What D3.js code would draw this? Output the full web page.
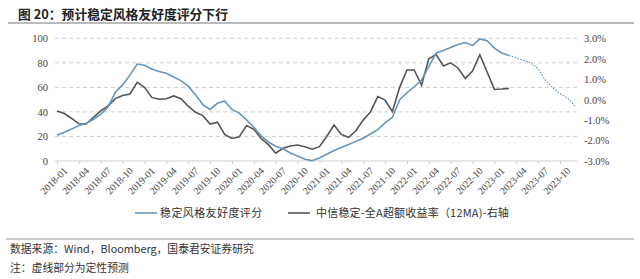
<!DOCTYPE html>
<html><head><meta charset="utf-8">
<script src="https://cdn.jsdelivr.net/npm/d3@7"></script>
<style>
html,body{margin:0;padding:0;background:#fff;}
svg{display:block;}
</style></head>
<body>
<svg id="chart" width="640" height="279"></svg>
<script>
// ---- data ----
const months = [];
for (let y = 2018; y <= 2023; y++) for (let m = 1; m <= 12; m++) months.push(y + "-" + String(m).padStart(2, "0"));

// 稳定风格友好度评分 (left axis), 2018-01 .. 2023-03
const scoreValues = [21,23.5,26,29,30.5,34,38,44,56,62,70,79,78,75,73,71.5,68.5,65.5,61,54,46,42,47,49,42,39,33.5,27.5,20.5,15.5,12,10,6.5,4,1.5,0.3,2.5,5.5,8.5,11,13.5,16,18.5,22,25.5,31,35.5,50,55.5,60.5,66,77,88,90,92.5,95,96.5,94,99.5,98,92,88,86];
// forecast (dotted), 2023-03 .. 2023-12
const forecastValues = [86,84,82,80,75,66,59.5,55,51.5,45];
// 中信稳定-全A超额收益率（12MA)-右轴 (%), 2018-01 .. 2023-03
const excessValues = [-0.55,-0.68,-0.92,-1.18,-1.19,-0.87,-0.55,-0.3,0.05,0.2,0.28,0.85,0.6,0.11,0.02,0.04,0.18,0.05,-0.32,-0.62,-0.78,-1.19,-1.1,-1.7,-1.9,-1.82,-1.27,-1.45,-1.9,-2.2,-2.62,-2.38,-2.27,-2.22,-2.3,-2.42,-2.3,-1.8,-1.24,-1.7,-1.84,-1.52,-1.0,-0.6,0.15,-0.02,-0.58,0.6,1.45,1.45,0.7,2.0,2.2,1.65,1.8,1.55,1.04,1.4,2.2,1.35,0.5,0.52,0.55];

const leftTicks = [0,20,40,60,80,100];
const rightTicks = [3,2,1,0,-1,-2,-3];
const tickMonths = months.filter((d,i)=> i % 3 === 0);

const titleText = "图 20：预计稳定风格友好度评分下行";
const legendNames = ["稳定风格友好度评分", "中信稳定-全A超额收益率（12MA)-右轴"];
const sourceText = "数据来源：Wind，Bloomberg，国泰君安证券研究";
const noteText = "注：虚线部分为定性预测";

// ---- drawing ----
const svg = d3.select("#chart");
const blue = "#6398bd", dark = "#555555";
const L = 55, R = 577, T = 38.3, B = 161;

const x = d3.scalePoint().domain(months).range([57, 574.6]);
const yL = d3.scaleLinear().domain([0,100]).range([B, T]);
const yR = d3.scaleLinear().domain([-3,3]).range([B, T]);

const cjk = "'Noto Sans CJK SC', 'Noto Sans', sans-serif";
const serif = "'Liberation Serif', 'DejaVu Serif', serif";

// title
svg.append("text").attr("x", 18).attr("y", 19).attr("font-family", cjk).attr("font-weight", "bold")
  .attr("font-size", 12.8).attr("fill", "#222").text(titleText);
svg.append("line").attr("x1", 8).attr("x2", 634).attr("y1", 23).attr("y2", 23).attr("stroke", "#777").attr("stroke-width", 1);

// gridlines
svg.append("g").selectAll("line").data(leftTicks.filter(d=>d>0)).join("line")
  .attr("x1", L).attr("x2", R).attr("y1", d=>yL(d)).attr("y2", d=>yL(d))
  .attr("stroke", "#d0d0d0").attr("stroke-dasharray", "4,3").attr("stroke-width", 1);

// left axis
const gl = svg.append("g").attr("transform", `translate(${L},0)`)
  .call(d3.axisLeft(yL).tickValues(leftTicks).tickSize(0).tickPadding(7));
gl.select(".domain").remove();
gl.selectAll("text").attr("font-family", serif).attr("font-size", 10.5).attr("fill", "#444");

// right axis
const gr = svg.append("g").attr("transform", `translate(${R},0)`)
  .call(d3.axisRight(yR).tickValues(rightTicks).tickSize(0).tickPadding(7).tickFormat(d=>d.toFixed(1)+"%"));
gr.select(".domain").remove();
gr.selectAll("text").attr("font-family", serif).attr("font-size", 10.5).attr("fill", "#444");

// bottom axis
const gx = svg.append("g").attr("transform", `translate(0,${B})`)
  .call(d3.axisBottom(x).tickValues(tickMonths).tickSize(3).tickSizeOuter(0));
gx.select(".domain").attr("d", `M${L},0H${R}`).attr("stroke", "#cfcfcf");
gx.selectAll(".tick line").attr("stroke", "#cfcfcf");
gx.selectAll("text").attr("font-family", serif).attr("font-size", 10).attr("fill", "#444")
  .attr("text-anchor", "end").attr("transform", "translate(2,2) rotate(-45)").attr("dy", "0.6em").attr("dx", "0");

// lines
const lineL = d3.line().x(d=>x(d.m)).y(d=>yL(d.v));
const lineR = d3.line().x(d=>x(d.m)).y(d=>yR(d.v));
const scoreData = scoreValues.map((v,i)=>({m:months[i], v}));
const fcData = forecastValues.map((v,i)=>({m:months[scoreValues.length-1+i], v}));
const exData = excessValues.map((v,i)=>({m:months[i], v}));

svg.append("path").datum(exData).attr("d", lineR).attr("fill","none").attr("stroke", dark).attr("stroke-width", 1.6);
svg.append("path").datum(scoreData).attr("d", lineL).attr("fill","none").attr("stroke", blue).attr("stroke-width", 1.6);
svg.append("path").datum(fcData).attr("d", lineL).attr("fill","none").attr("stroke", blue).attr("stroke-width", 1.2).attr("stroke-dasharray", "1.5,1.5");

// legend
const lg = svg.append("g");
lg.append("line").attr("x1",135).attr("x2",157).attr("y1",213).attr("y2",213).attr("stroke",blue).attr("stroke-width",1.6);
lg.append("text").attr("x",160).attr("y",217).attr("font-family",cjk).attr("font-size",11).attr("letter-spacing",0.4).attr("fill","#333").text(legendNames[0]);
lg.append("line").attr("x1",288).attr("x2",310).attr("y1",213).attr("y2",213).attr("stroke",dark).attr("stroke-width",1.6);
lg.append("text").attr("x",316).attr("y",217).attr("font-family",cjk).attr("font-size",11).attr("letter-spacing",0.2).attr("fill","#333").text(legendNames[1]);

// footer
svg.append("line").attr("x1", 6).attr("x2", 634).attr("y1", 239).attr("y2", 239).attr("stroke", "#999").attr("stroke-width", 1);
svg.append("text").attr("x", 10).attr("y", 253).attr("font-family", cjk).attr("font-size", 10.8).attr("fill", "#333").text(sourceText);
svg.append("text").attr("x", 10).attr("y", 272).attr("font-family", cjk).attr("font-size", 10.8).attr("fill", "#333").text(noteText);
</script>
</body></html>
